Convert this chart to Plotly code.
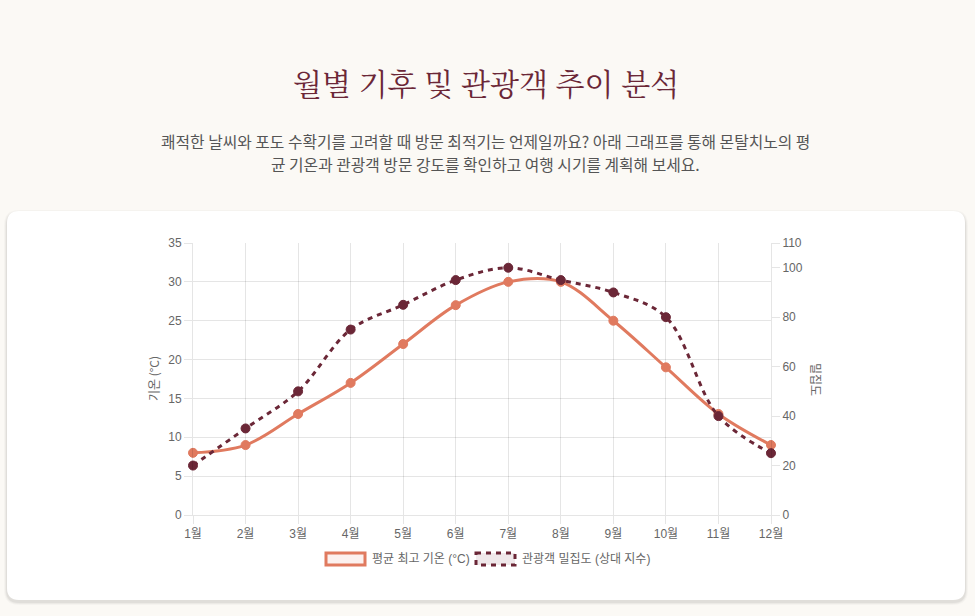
import plotly.graph_objects as go

# monthly data
months = ["1월", "2월", "3월", "4월", "5월", "6월", "7월", "8월", "9월", "10월", "11월", "12월"]
temp_high = [8, 9, 13, 17, 22, 27, 30, 30, 25, 19, 13, 9]
crowd_index = [20, 35, 50, 75, 85, 95, 100, 95, 90, 80, 40, 25]

temp_ticks = [0, 5, 10, 15, 20, 25, 30, 35]
crowd_ticks = [0, 20, 40, 60, 80, 100, 110]

TEMP_COLOR = "#E07A5F"
CROWD_COLOR = "#6B2737"
BG = "#FBF9F5"
TICK_FONT = "Liberation Sans, Arial, Noto Sans CJK KR, sans-serif"
KR_FONT = "Noto Sans CJK KR, sans-serif"

W, H = 975, 616
L, R, T, B = 193, 204, 243, 101
PW, PH = W - L - R, H - T - B


def px(x):
    return (x - L) / PW


def py(y):
    return (H - B - y) / PH


def round_rect(x0, y0, x1, y1, r):
    # rounded rectangle as an svg path in paper coordinates
    pts = [
        f"M {px(x0 + r)},{py(y0)}",
        f"L {px(x1 - r)},{py(y0)}",
        f"Q {px(x1)},{py(y0)} {px(x1)},{py(y0 + r)}",
        f"L {px(x1)},{py(y1 - r)}",
        f"Q {px(x1)},{py(y1)} {px(x1 - r)},{py(y1)}",
        f"L {px(x0 + r)},{py(y1)}",
        f"Q {px(x0)},{py(y1)} {px(x0)},{py(y1 - r)}",
        f"L {px(x0)},{py(y0 + r)}",
        f"Q {px(x0)},{py(y0)} {px(x0 + r)},{py(y0)}",
        "Z",
    ]
    return " ".join(pts)


fig = go.Figure()

fig.add_trace(go.Scatter(
    x=months, y=temp_high,
    name="평균 최고 기온 (°C)",
    mode="lines+markers",
    line=dict(color=TEMP_COLOR, width=3, shape="spline", smoothing=1),
    marker=dict(color=TEMP_COLOR, size=9, line=dict(color=TEMP_COLOR, width=1)),
    cliponaxis=False,
    yaxis="y",
))

fig.add_trace(go.Scatter(
    x=months, y=crowd_index,
    name="관광객 밀집도 (상대 지수)",
    mode="lines+markers",
    line=dict(color=CROWD_COLOR, width=3, shape="spline", smoothing=1, dash="5px,5px"),
    marker=dict(color=CROWD_COLOR, size=9, line=dict(color=CROWD_COLOR, width=1)),
    cliponaxis=False,
    yaxis="y2",
))

shapes = []
# card shadow + card
for i, a in enumerate([0.025, 0.035, 0.05]):
    g = 3 - i
    shapes.append(dict(
        type="path", xref="paper", yref="paper", layer="below",
        path=round_rect(7 - g, 211 - g + 2, 965 + g, 600 + g + 2, 12 + g),
        fillcolor=f"rgba(0,0,0,{a})", line=dict(width=0),
    ))
shapes.append(dict(
    type="path", xref="paper", yref="paper", layer="below",
    path=round_rect(7, 211, 965, 600, 12),
    fillcolor="white", line=dict(width=0),
))

# custom legend boxes
shapes.append(dict(
    type="rect", xref="paper", yref="paper",
    x0=px(326), x1=px(365), y0=py(553), y1=py(565),
    fillcolor="rgba(224,122,95,0.1)", line=dict(color=TEMP_COLOR, width=3),
))
shapes.append(dict(
    type="rect", xref="paper", yref="paper",
    x0=px(476), x1=px(515), y0=py(553), y1=py(565),
    fillcolor="rgba(107,39,55,0.1)", line=dict(color=CROWD_COLOR, width=3, dash="5px,5px"),
))

annotations = [
    dict(text="월별 기후 및 관광객 추이 분석", x=px(486), y=py(82),
         font=dict(family="Noto Serif CJK KR, Noto Serif KR, serif", size=30, color=CROWD_COLOR)),
    dict(text="쾌적한 날씨와 포도 수확기를 고려할 때 방문 최적기는 언제일까요? 아래 그래프를 통해 몬탈치노의 평",
         x=px(485), y=py(141), font=dict(family=KR_FONT, size=15.8, color="#555555")),
    dict(text="균 기온과 관광객 방문 강도를 확인하고 여행 시기를 계획해 보세요.",
         x=px(485), y=py(165), font=dict(family=KR_FONT, size=15.8, color="#555555")),
    dict(text="기온 (°C)", x=px(153), y=py(379), textangle=-90,
         font=dict(family=KR_FONT, size=12, color="#666666")),
    dict(text="밀집도", x=px(817), y=py(379), textangle=90,
         font=dict(family=KR_FONT, size=12, color="#666666")),
    dict(text="평균 최고 기온 (°C)", x=px(370), y=py(559), xanchor="left",
         font=dict(family=TICK_FONT, size=12, color="#666666")),
    dict(text="관광객 밀집도 (상대 지수)", x=px(520), y=py(559), xanchor="left",
         font=dict(family=TICK_FONT, size=12, color="#666666")),
]
for a in annotations:
    a.update(xref="paper", yref="paper", showarrow=False)
    a.setdefault("xanchor", "center")
    a.setdefault("yanchor", "middle")

grid = "rgba(0,0,0,0.1)"

fig.update_layout(
    width=W, height=H,
    margin=dict(l=L, r=R, t=T, b=B),
    paper_bgcolor=BG,
    plot_bgcolor="rgba(0,0,0,0)",
    showlegend=False,
    shapes=shapes,
    annotations=annotations,
    font=dict(family=TICK_FONT, size=12, color="#666666"),
    xaxis=dict(
        type="category", range=[0, 11],
        showgrid=True, gridcolor=grid, gridwidth=1,
        showline=True, linecolor=grid,
        ticks="outside", ticklen=8, tickcolor=grid,
        zeroline=False, fixedrange=True,
    ),
    yaxis=dict(
        range=[0, 35], tickvals=temp_ticks,
        showgrid=True, gridcolor=grid, gridwidth=1,
        showline=True, linecolor=grid,
        ticks="outside", ticklen=8, tickcolor=grid,
        zeroline=False, fixedrange=True,
    ),
    yaxis2=dict(
        range=[0, 110], tickvals=crowd_ticks,
        overlaying="y", side="right",
        showgrid=False,
        showline=True, linecolor=grid,
        ticks="outside", ticklen=8, tickcolor=grid,
        zeroline=False, fixedrange=True,
    ),
)

# drop the default page margin so the figure sits at the window's top-left corner
page_fix = "document.body.style.margin='0';document.body.style.background='%s';" % BG

fig.write_html("out.html", config={"displayModeBar": False}, post_script=page_fix)
